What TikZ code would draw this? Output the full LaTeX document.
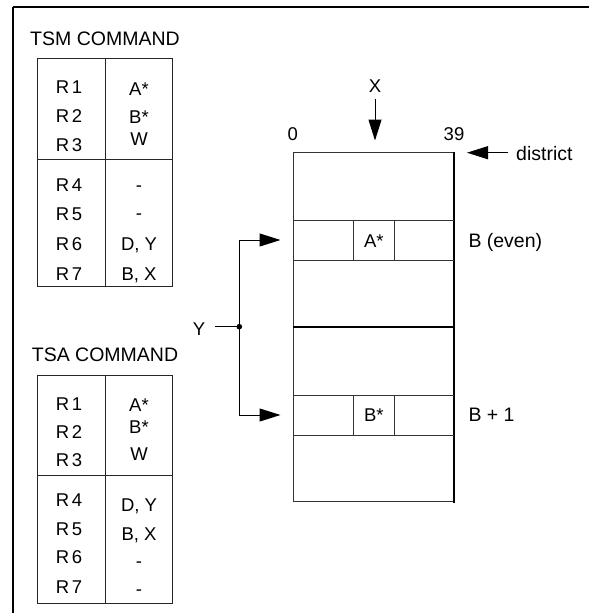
\documentclass[tikz,border=0pt]{standalone}
\usepackage{fontspec}
\setmainfont{Liberation Sans}
\usetikzlibrary{arrows.meta}
\begin{document}
\begin{tikzpicture}[x=1pt,y=-1pt,
  tbl/.style={line width=1pt,draw=black!85},
  cell/.style={line width=1pt,draw=black!80},
  lab/.style={inner sep=0pt,anchor=base,font=\fontsize{18.5}{20}\selectfont},
  head/.style={inner sep=0pt,anchor=base west,font=\fontsize{19.5}{22}\selectfont},
  side/.style={inner sep=0pt,anchor=base west,font=\fontsize{19.5}{22}\selectfont},
  conn/.style={line width=1pt},
  arr/.style={conn,-{Triangle[length=21pt,width=13pt]}}]
\useasboundingbox (0,0) rectangle (589,613);
% frame
\draw[line width=2.2pt] (12.5,7.2) -- (589,7.2);
\draw[line width=1.6pt] (13,6.5) -- (13,613);
% TSM table
\node[head] (tsmh) at (30,45.7) {TSM COMMAND};
\draw[tbl] (37.7,58.3) rectangle (172.3,286.7);
\draw[tbl] (105.3,58.3) -- (105.3,286.7);
\draw[tbl] (37.7,159.3) -- (172.3,159.3);
\node[lab] (m1) at (69,93.3) {R\kern2.5pt1};
\node[lab] (m2) at (69,122) {R\kern2.5pt2};
\node[lab] (m3) at (69,151) {R\kern2.5pt3};
\node[lab] (m4) at (69,191.7) {R\kern2.5pt4};
\node[lab] (m5) at (69,220.7) {R\kern2.5pt5};
\node[lab] (m6) at (69,250.7) {R\kern2.5pt6};
\node[lab] (m7) at (69,280) {R\kern2.5pt7};
\node[lab] (mv1) at (139,95) {A*};
\node[lab] (mv2) at (139,123) {B*};
\node[lab] (mv3) at (139,145) {W};
\node[lab] (mv4) at (139,191) {-};
\node[lab] (mv5) at (139,219) {-};
\node[lab] (mv6) at (139,250.7) {D, Y};
\node[lab] (mv7) at (139,280) {B, X};
% TSA table
\node[head] (tsah) at (31.7,361.7) {TSA COMMAND};
\draw[tbl] (37.7,375) rectangle (172.3,603.3);
\draw[tbl] (105.3,375) -- (105.3,603.3);
\draw[tbl] (37.7,475) -- (172.3,475);
\node[lab] (a1) at (69,410) {R\kern2.5pt1};
\node[lab] (a2) at (69,438.3) {R\kern2.5pt2};
\node[lab] (a3) at (69,466.7) {R\kern2.5pt3};
\node[lab] (a4) at (69,506.7) {R\kern2.5pt4};
\node[lab] (a5) at (69,535) {R\kern2.5pt5};
\node[lab] (a6) at (69,563.3) {R\kern2.5pt6};
\node[lab] (a7) at (69,593.3) {R\kern2.5pt7};
\node[lab] (av1) at (139,411.7) {A*};
\node[lab] (av2) at (139,433.3) {B*};
\node[lab] (av3) at (139,460) {W};
\node[lab] (av4) at (139,511.7) {D, Y};
\node[lab] (av5) at (139,540) {B, X};
\node[lab] (av6) at (139,567) {-};
\node[lab] (av7) at (139,595) {-};
% memory box
\draw[cell] (293.3,152.7) -- (293.3,501.7) -- (454,501.7);
\draw[cell] (293.3,152.7) -- (454,152.7);
\draw[line width=1.8pt] (454,151.8) -- (454,502.5);
\draw[cell] (293.3,220) -- (454,220);
\draw[cell] (293.3,260) -- (454,260);
\draw[line width=1.8pt] (293.3,326.7) -- (454,326.7);
\draw[cell] (293.3,395) -- (454,395);
\draw[cell] (293.3,435) -- (454,435);
\draw[cell] (353.5,220) -- (353.5,260);
\draw[cell] (394.2,220) -- (394.2,260);
\draw[cell] (353.5,395) -- (353.5,435);
\draw[cell] (394.2,395) -- (394.2,435);
\node[lab,anchor=center] (astar) at (373.8,241) {A*};
\node[lab,anchor=center] (bstar) at (373.8,415) {B*};
\node[lab] (zero) at (292.7,140) {0};
\node[lab] (n39) at (454,140) {39};
\node[side] (beven) at (468.3,247.3) {B (even)};
\node[side] (bplus) at (468.3,421.7) {B + 1};
% X arrow
\node[lab,anchor=base] (xl) at (375,92.3) {X};
\coordinate (xs) at (375,98.5);
\coordinate (xt) at (375,140.5);
\draw[arr] (xs) -- (xt);
% district arrow
\node[side] (dist) at (516,160) {district};
\coordinate (ds) at (508.3,152.7);
\coordinate (dt) at (467,152.7);
\draw[arr] (ds) -- (dt);
% Y connector
\node[lab] (yl) at (199,335) {Y};
\coordinate (ys) at (215,326.7);
\coordinate (yj) at (239.3,326.7);
\coordinate (ytop) at (239.3,240);
\coordinate (ybot) at (239.3,415);
\coordinate (t1) at (280.5,240);
\coordinate (t2) at (280.5,415);
\draw[conn] (ys) -- (yj);
\fill (yj) circle (2.8pt);
\draw[arr] (yj) -- (ytop) -- (t1);
\draw[arr] (yj) -- (ybot) -- (t2);
\end{tikzpicture}
\end{document}
